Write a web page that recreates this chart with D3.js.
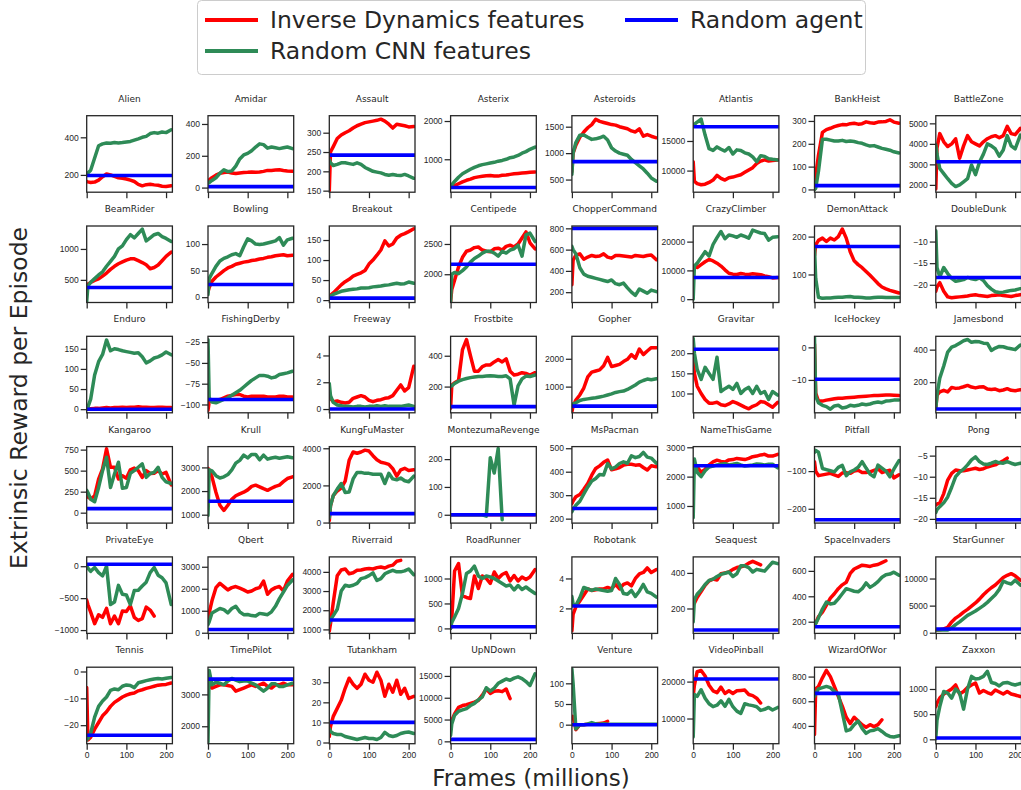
<!DOCTYPE html>
<html>
<head>
<meta charset="utf-8">
<script src="https://cdn.jsdelivr.net/npm/d3@7"></script>
<style>
  body { margin: 0; background: #fff; }
  svg { font-family: "DejaVu Sans", sans-serif; }
  .tick text { fill: #262626; font-size: 8.5px; }
  .tick line { stroke: #262626; stroke-width: 1.25; }
  .domain { display: none; }
  .frame { fill: none; stroke: #262626; stroke-width: 1.3; }
  .title { fill: #262626; font-size: 9px; text-anchor: middle; }
  .series { fill: none; stroke-linejoin: round; stroke-linecap: round; }
</style>
</head>
<body>
<svg width="1021" height="790"></svg>
<script>
const frames = [0, 3, 10, 20, 30, 40, 50, 60, 70, 80, 90, 100, 110, 120, 130, 140, 150, 160, 170, 180, 190, 200, 213];

const games = [
  "Alien", "Amidar", "Assault", "Asterix", "Asteroids", "Atlantis", "BankHeist", "BattleZone",
  "BeamRider", "Bowling", "Breakout", "Centipede", "ChopperCommand", "CrazyClimber", "DemonAttack", "DoubleDunk",
  "Enduro", "FishingDerby", "Freeway", "Frostbite", "Gopher", "Gravitar", "IceHockey", "Jamesbond",
  "Kangaroo", "Krull", "KungFuMaster", "MontezumaRevenge", "MsPacman", "NameThisGame", "Pitfall", "Pong",
  "PrivateEye", "Qbert", "Riverraid", "RoadRunner", "Robotank", "Seaquest", "SpaceInvaders", "StarGunner",
  "Tennis", "TimePilot", "Tutankham", "UpNDown", "Venture", "VideoPinball", "WizardOfWor", "Zaxxon"
];

const inverseDynamics = [
  [165, 163, 160, 162, 172, 190, 205, 200, 192, 185, 182, 178, 172, 165, 150, 142, 148, 150, 147, 145, 140, 138, 142],
  [38, 48, 62, 78, 90, 95, 98, 92, 88, 92, 95, 96, 98, 96, 98, 102, 108, 108, 110, 112, 108, 105, 102],
  [150, 250, 264, 285, 294, 300, 305, 312, 318, 322, 326, 328, 330, 332, 335, 330, 322, 312, 322, 320, 318, 315, 316],
  [280, 290, 310, 360, 410, 450, 480, 520, 540, 555, 570, 575, 560, 560, 580, 590, 605, 620, 630, 640, 650, 660, 670],
  [650, 1000, 1150, 1300, 1400, 1480, 1540, 1640, 1600, 1580, 1560, 1540, 1530, 1500, 1480, 1460, 1420, 1400, 1460, 1320, 1350, 1320, 1290],
  [11500, 8200, 7800, 7600, 7700, 8000, 8400, 9200, 8700, 8400, 8800, 8900, 9100, 9300, 9700, 10100, 10500, 11200, 11600, 11800, 11600, 11700, 11800],
  [0, 60, 150, 250, 262, 268, 275, 280, 284, 283, 288, 290, 286, 288, 296, 292, 290, 295, 296, 298, 305, 295, 290],
  [1800, 3800, 4500, 4100, 3870, 4000, 4250, 3300, 3900, 4400, 4100, 4000, 3900, 4100, 4250, 4350, 4400, 4300, 4400, 4850, 4500, 4450, 4750],
  [420, 430, 460, 490, 515, 560, 610, 670, 720, 760, 790, 820, 840, 840, 810, 780, 745, 680, 700, 740, 810, 880, 950],
  [10, 18, 30, 38, 44, 50, 55, 58, 62, 64, 66, 67, 69, 70, 72, 73, 75, 76, 78, 79, 80, 78, 79],
  [8, 12, 18, 28, 38, 46, 52, 60, 64, 68, 74, 90, 100, 112, 125, 148, 135, 140, 155, 162, 166, 171, 178],
  [1550, 1750, 1900, 2120, 2280, 2380, 2400, 2440, 2450, 2400, 2380, 2370, 2420, 2430, 2400, 2460, 2480, 2450, 2500, 2600, 2700, 2520, 2420],
  [270, 500, 550, 560, 510, 530, 545, 535, 540, 560, 530, 520, 545, 545, 540, 535, 530, 545, 540, 535, 545, 550, 505],
  [11000, 11500, 11000, 12000, 13000, 13800, 13300, 12500, 11500, 10200, 9000, 8700, 8600, 8900, 8700, 8600, 8800, 8700, 8500, 8100, 7800, 7400, 7500],
  [150, 178, 190, 196, 187, 196, 191, 200, 220, 196, 160, 136, 126, 118, 108, 98, 87, 76, 67, 62, 58, 55, 51],
  [-21.5, -20.5, -19.5, -21.5, -22.8, -23, -22.9, -22.8, -22.7, -22.6, -22.4, -22.3, -22.5, -22.6, -22.7, -22.5, -22.4, -22.3, -22.5, -22.6, -22.7, -22.5, -22.3],
  [0, 1, 1, 2, 2, 3, 4, 3, 4, 4, 5, 4, 5, 5, 6, 5, 5, 4, 4, 5, 5, 4, 4],
  [-107, -97, -95, -95, -94, -92, -90, -89, -88, -88, -90, -91, -90, -90, -90, -90, -91, -91, -91, -90, -90, -91, -91],
  [1.0, 0.8, 0.55, 0.6, 0.5, 0.45, 0.5, 0.8, 0.9, 1.0, 0.9, 0.65, 0.55, 0.65, 0.7, 0.8, 0.85, 1.0, 1.4, 1.8, 1.35, 1.6, 3.2],
  [60, 210, 225, 240, 440, 505, 400, 300, 300, 330, 340, 340, 360, 375, 360, 380, 300, 275, 280, 290, 285, 275, 290],
  [100, 300, 520, 700, 950, 1350, 1520, 1560, 1600, 1750, 2050, 1720, 1760, 1800, 1900, 1980, 2150, 2020, 2350, 2150, 2280, 2400, 2400],
  [187, 150, 118, 100, 85, 76, 76, 78, 72, 70, 74, 80, 76, 71, 66, 62, 68, 72, 80, 78, 72, 66, 78],
  [1, -14, -16.5, -16.5, -16.2, -16, -15.8, -15.6, -15.6, -15.5, -15.4, -15.3, -15.2, -15.1, -15, -14.9, -14.8, -14.8, -14.7, -14.6, -14.6, -14.7, -14.8],
  [40, 120, 140, 150, 140, 168, 162, 165, 172, 180, 170, 165, 170, 172, 158, 155, 158, 148, 152, 160, 150, 148, 153],
  [190, 185, 165, 200, 400, 520, 760, 540, 540, 400, 440, 410, 510, 530, 500, 420, 500, 466, 470, 500, 460, 480, 330],
  [2960, 2900, 2600, 1950, 1400, 1180, 1400, 1650, 1800, 1880, 1950, 2050, 2200, 2250, 2180, 2100, 2030, 2120, 2200, 2250, 2400, 2530, 2600],
  [100, 900, 1450, 1700, 1850, 2230, 3350, 3800, 3730, 3800, 3900, 3850, 3600, 3380, 3250, 3200, 3130, 2900, 2500, 2840, 2920, 2800, 2840],
  [0, 0, 0, 0, 0, 0, 0, 0, 0, 0, 0, 0, 0, 0, 0, 0, 0, 0, 0, 0, 0, 0, 0],
  [264, 275, 293, 303, 325, 350, 385, 414, 425, 440, 450, 408, 412, 418, 428, 432, 432, 428, 430, 418, 407, 425, 421],
  [2510, 2450, 2340, 2150, 2250, 2400, 2500, 2560, 2520, 2500, 2570, 2580, 2620, 2600, 2580, 2620, 2680, 2700, 2740, 2760, 2700, 2700, 2760],
  [-75, -100, -112, -110, -108, -106, -110, -114, -105, -104, -106, -100, -98, -104, -104, -102, -98, -94, -104, -100, -98, -118, -110],
  [-16.7, -16.5, -16.2, -14, -10.8, -9.2, -8.4, -8.6, -8.6, -8.4, -8.2, -8, -8.3, -8.1, -7.7, -7.4, -7.2, -6.7, -6.2, -5.6],
  [-531, -600, -720, -900, -760, -800, -661, -900, -780, -900, -700, -710, -620, -800, -850, -820, -640, -687, -780],
  [650, 900, 1450, 2050, 2250, 2100, 1950, 2050, 2100, 2030, 1950, 1850, 1900, 2000, 2050, 2350, 1750, 1950, 2050, 2100, 1900, 2350, 2650],
  [900, 1300, 2400, 3800, 4100, 4150, 3900, 3950, 4080, 4100, 4150, 4180, 4150, 4220, 4250, 4200, 4300, 4350, 4550, 4600],
  [0, 200, 1150, 1300, 650, 620, 600, 1050, 800, 1050, 1000, 900, 1130, 1000, 1080, 1120, 950, 1060, 950, 1030, 980, 1030, 1180],
  [0.5, 1.6, 2.1, 2.5, 2.9, 3.3, 3.2, 3.25, 3.3, 3.3, 3.4, 3.3, 3.6, 3.3, 3.6, 3.7, 3.5, 4.0, 4.3, 4.4, 4.7, 4.4, 4.6],
  [225, 230, 262, 295, 330, 355, 365, 360, 395, 400, 405, 420, 430, 435, 440, 455, 465, 455, 445],
  [170, 190, 240, 275, 330, 385, 420, 460, 490, 510, 580, 615, 630, 645, 640, 635, 645, 650, 665, 680],
  [500, 500, 550, 700, 1000, 2000, 2700, 3200, 3800, 4300, 4900, 5500, 6200, 7000, 7700, 8300, 8800, 9500, 10200, 10600, 10900, 10500, 9700],
  [-6, -25.5, -24.5, -21.5, -19, -16.5, -15, -13, -11.5, -10.5, -9.5, -8.8, -8.3, -8, -7.2, -6.8, -6.3, -5.9, -5.5, -5.1, -4.9, -4.8, -4.3],
  [3350, 3300, 3200, 3250, 3300, 3300, 3280, 3250, 3100, 3150, 3200, 3250, 3300, 3250, 3300, 3350, 3250, 3200, 3300, 3300, 3350, 3300, 3300],
  [3, 8, 13, 17, 21, 27, 32, 29, 27, 29, 34, 31, 30, 35, 31, 23, 29, 25, 31, 24, 27, 22, 23],
  [3700, 4800, 6300, 7800, 8200, 8400, 8700, 9000, 9400, 10600, 12000, 11000, 11500, 11600, 11400, 12000, 9800],
  [15, 20, -12, 0, 0, 1, 1, 2, 3, 4, 8],
  [16000, 19000, 22700, 23000, 21500, 19000, 17500, 17000, 18500, 16800, 17500, 16800, 17500, 17600, 17700, 16500, 16200, 15500, 14200],
  [330, 700, 720, 790, 850, 800, 720, 640, 560, 470, 420, 470, 440, 410, 390, 410, 395, 410, 450],
  [650, 720, 820, 900, 950, 1000, 1080, 900, 950, 1030, 1080, 1120, 920, 970, 930, 900, 980, 940, 900, 950, 900, 880, 850]
];

const randomCNN = [
  [205, 210, 225, 290, 355, 365, 370, 368, 372, 370, 372, 375, 378, 385, 392, 400, 405, 420, 425, 422, 428, 425, 440],
  [27, 32, 45, 62, 90, 112, 100, 105, 135, 180, 205, 215, 232, 255, 275, 270, 248, 255, 250, 245, 250, 255, 245],
  [230, 222, 215, 218, 222, 222, 220, 218, 222, 218, 210, 205, 200, 198, 196, 192, 190, 192, 190, 189, 192, 188, 182],
  [280, 330, 420, 530, 620, 680, 740, 790, 830, 860, 880, 900, 920, 950, 970, 1000, 1040, 1060, 1100, 1160, 1200, 1260, 1320],
  [600, 1000, 1200, 1340, 1345, 1300, 1260, 1270, 1290, 1320, 1250, 1100, 1040, 1000, 980, 960, 880, 820, 760, 700, 620, 530, 470],
  [17500, 17800, 18200, 18700, 16000, 13700, 13400, 14000, 13600, 13300, 13900, 12800, 13500, 13400, 13000, 12800, 12300, 11500, 12500, 12400, 12000, 11900, 11800],
  [0, 5, 80, 220, 220, 216, 212, 212, 215, 210, 212, 210, 205, 202, 195, 190, 192, 186, 180, 176, 172, 165, 160],
  [3950, 3500, 2800, 2550, 2300, 2070, 1920, 2000, 2150, 2300, 2970, 2500, 3100, 3500, 4000, 3900, 3750, 3400, 3700, 4400, 3900, 3750, 4430],
  [150, 400, 460, 520, 580, 630, 720, 800, 880, 1000, 1050, 1150, 1230, 1180, 1250, 1320, 1130, 1180, 1230, 1250, 1200, 1170, 1120],
  [5, 35, 45, 58, 68, 73, 76, 80, 82, 78, 95, 110, 106, 100, 99, 100, 102, 104, 106, 112, 98, 108, 111],
  [8, 10, 14, 18, 22, 24, 26, 27, 28, 30, 30, 31, 33, 34, 35, 37, 38, 40, 42, 40, 41, 45, 42],
  [1550, 2000, 2030, 2010, 2060, 2120, 2200, 2260, 2300, 2350, 2380, 2380, 2350, 2300, 2380, 2350, 2400, 2420, 2480, 2300, 2650, 2680, 2540],
  [630, 600, 560, 430, 370, 350, 340, 330, 320, 310, 300, 315, 280, 270, 285, 240, 200, 170, 230, 210, 190, 220, 205],
  [0, 11500, 12500, 14450, 16500, 15000, 19000, 21400, 23500, 21000, 22300, 22000, 21500, 22300, 21800, 21200, 24000, 23500, 23000, 22800, 20500, 21500, 21700],
  [170, 90, 40, 37, 38, 38, 39, 40, 40, 41, 42, 40, 40, 39, 38, 38, 39, 40, 40, 39, 39, 39, 39],
  [-7.5, -16, -18.2, -16, -17.4, -18.5, -19.2, -19, -18.8, -18.3, -18.6, -18.8, -18.4, -19, -20.2, -21, -21.6, -21.8, -21.7, -21.5, -21.3, -21.2, -20.9],
  [0, 5, 25, 85, 118, 136, 172, 145, 150, 148, 145, 143, 141, 139, 140, 130, 115, 120, 127, 130, 135, 142, 135],
  [-22, -92, -97, -98, -96, -94, -92, -89, -86, -83, -79, -75, -71, -68, -65, -65, -66, -68, -67, -64, -63, -62, -60],
  [1.9, 1.0, 0.5, 0.3, 0.25, 0.2, 0.2, 0.15, 0.2, 0.2, 0.15, 0.2, 0.2, 0.25, 0.2, 0.25, 0.2, 0.2, 0.2, 0.2, 0.25, 0.3, 0.2],
  [200, 205, 220, 235, 245, 252, 258, 262, 265, 266, 268, 270, 268, 266, 266, 270, 250, 80, 205, 250, 268, 265, 275],
  [330, 380, 420, 500, 540, 560, 580, 600, 630, 660, 700, 740, 790, 820, 840, 900, 980, 1060, 1160, 1220, 1270, 1250, 1280],
  [237, 200, 160, 135, 165, 150, 135, 190, 105, 112, 118, 110, 125, 100, 110, 115, 100, 118, 100, 105, 85, 105, 96],
  [3, -15, -17, -17.8, -18.2, -19, -18, -17.8, -18.6, -18.4, -17.8, -18, -17.8, -17.4, -17.6, -17.4, -17, -16.8, -17, -16.5, -16.4, -16.2, -16.2],
  [40, 120, 225, 300, 385, 415, 425, 440, 455, 462, 445, 450, 448, 440, 438, 395, 410, 420, 418, 410, 405, 400, 428],
  [267, 240, 160, 130, 300, 500, 660, 300, 460, 600, 290, 300, 470, 500, 540, 580, 420, 466, 480, 540, 420, 366, 347],
  [970, 2900, 2850, 2650, 2550, 2600, 2700, 2900, 3180, 3300, 3520, 3400, 3550, 3550, 3320, 3520, 3350, 3400, 3430, 3390, 3420, 3450, 3410],
  [270, 900, 1450, 1800, 2100, 1620, 1650, 2350, 2700, 2700, 2650, 2650, 2600, 2600, 2600, 2100, 2650, 2350, 2300, 2400, 2250, 2200, 2500],
  [0, 0, 0, 0, 0, 0, 0, 0, 0, 0, -5, 205, 150, 238, -18],
  [229, 240, 257, 274, 305, 335, 360, 371, 388, 386, 435, 412, 420, 435, 442, 436, 468, 460, 465, 482, 462, 458, 436],
  [600, 2600, 2150, 2000, 2200, 2330, 2360, 2400, 2420, 2440, 2400, 2420, 2450, 2400, 2360, 2380, 2400, 2430, 2420, 2400, 2420, 2420, 2300],
  [-50, -45, -50, -93, -96, -99, -102, -90, -85, -112, -102, -97, -90, -75, -92, -108, -115, -84, -92, -100, -115, -95, -72],
  [-18.5, -17.8, -17.1, -16.2, -14.8, -12.5, -10, -8.9, -8.2, -7.2, -6, -5.3, -6.4, -7, -7.1, -6.8, -6.4, -6.7, -6.8, -6.4, -6.8, -7.1, -6.8],
  [16, -30, -80, -20, -100, -150, 0, -600, -560, -300, -440, -450, -600, -380, -375, -310, -250, -100, -20, -140, -180, -260, -600],
  [370, 500, 900, 1000, 1100, 1050, 900, 1100, 1200, 950, 820, 830, 780, 760, 880, 850, 820, 950, 1200, 1550, 1850, 2150, 2400],
  [1320, 1500, 1720, 2050, 3000, 3300, 3250, 3300, 3400, 3650, 3700, 3800, 3950, 3550, 3650, 3900, 4000, 4080, 4000, 4000, 4050, 4150, 3850],
  [0, 120, 230, 400, 700, 1100, 1150, 1250, 1050, 1000, 1050, 1030, 1000, 950, 900, 850, 870, 770, 860, 780, 830, 770, 700],
  [2.8, 2.3, 2.2, 2.7, 3.4, 3.3, 3.2, 3.3, 3.25, 3.2, 3.15, 3.2, 4.0, 3.6, 3.0, 2.95, 3.2, 2.8, 3.15, 3.6, 3.1, 3.0, 2.75],
  [125, 250, 280, 305, 335, 358, 365, 380, 392, 398, 405, 380, 395, 440, 440, 430, 405, 420, 415, 410, 435, 460, 452],
  [170, 185, 230, 300, 355, 340, 345, 380, 420, 460, 450, 440, 435, 460, 505, 470, 490, 515, 550, 570, 575, 590, 565],
  [500, 500, 500, 500, 500, 900, 1500, 2000, 2600, 3200, 3600, 4000, 4500, 5000, 5600, 6300, 7000, 8000, 9500, 9200, 9000, 9700, 8800],
  [-25.5, -25, -23, -17, -13, -11, -9.5, -7, -6.5, -6.8, -5.5, -5, -5.2, -6, -4.2, -3.8, -3.4, -3.1, -2.8, -2.6, -2.8, -2.5, -2.2],
  [1500, 3750, 3300, 3380, 3350, 3300, 3420, 3500, 3450, 3400, 3420, 3420, 3350, 3300, 3200, 3100, 3200, 3330, 3330, 3250, 3250, 3300, 3350],
  [7, 5.5, 4.5, 4, 4, 3, 2.5, 2, 1.5, 2, 2.5, 2, 2, 1.5, 2.5, 5, 3.5, 3, 3.5, 4.5, 5, 5.2, 4.5],
  [1400, 4000, 6000, 6900, 7200, 7500, 8200, 8700, 9500, 10200, 12300, 11500, 12200, 13300, 13800, 14300, 14000, 14500, 14800, 14400, 13700, 12800, 15500],
  [135, 100, -10, 0, 0, 2, 5, 2, 1, 2, 1, 1, 1, 1, 1, 1, 1, 1, 1, 1, 1, 1, 1],
  [5000, 16500, 16000, 17800, 15500, 14000, 13200, 13600, 14800, 13300, 15200, 13200, 12000, 11400, 14000, 13700, 13500, 13200, 12200, 12500, 13000, 12300, 13000],
  [640, 660, 700, 710, 720, 710, 680, 660, 510, 360, 370, 410, 440, 380, 340, 360, 365, 378, 355, 330, 315, 310, 320],
  [13, 380, 650, 950, 920, 820, 1000, 920, 600, 1000, 1250, 1200, 1210, 1250, 1350, 1130, 1110, 1060, 1120, 1130, 1100, 1080, 1110]
];

const randomAgent = [
  197, 6, 242, 261, 840, 17400, 17, 3130,
  376, 24, 5, 2165, 800, 7510, 174, -18.3,
  0, -94, 0, 70, 300, 210, -9.8, 35,
  48, 1570, 480, 0, 243, 2370, -229, -20.2,
  30, 150, 1490, 33, 2.16, 79, 160, 680,
  -23.75, 3480, 10, 460, 0, 20700, 664, 27
];

const yRanges = [
  [108, 515], [-29, 452], [146, 344], [139, 2139], [261, 1708], [6350, 19270], [-12, 323], [1643, 5373],
  [134, 1371], [-10, 134], [-6, 185], [1533, 2797], [103, 822], [-1156, 25430], [26, 228], [-24.1, -6.4],
  [-9, 181], [-110, -18], [-0.28, 5.43], [30, 526], [60, 2807], [52, 242], [-20.1, 3.4], [12, 482],
  [-124, 786], [645, 3880], [-30, 4090], [-30, 245], [181, 507], [417, 3023], [-238, -35], [-21, -2.86],
  [-1052, 146], [-30, 3448], [792, 4780], [-100, 1433], [0.33, 5.44], [60, 490], [108, 710], [-123, 13990],
  [-26.9, 1.6], [1453, 3853], [-0.6, 37.5], [-540, 17000], [-46, 139], [3180, 23900], [256, 876], [-87, 1433]
];

const yTicks = [
  [200, 400], [0, 200, 400], [150, 200, 250, 300], [1000, 2000], [500, 1000, 1500], [10000, 15000], [0, 100, 200, 300], [2000, 3000, 4000, 5000],
  [500, 1000], [0, 50, 100], [0, 50, 100, 150], [2000, 2500], [200, 400, 600, 800], [0, 10000, 20000], [100, 200], [-20, -15, -10],
  [0, 50, 100, 150], [-100, -75, -50, -25], [0, 2, 4], [200, 400], [1000, 2000], [100, 150, 200], [-10, 0], [200, 400],
  [0, 250, 500, 750], [1000, 2000, 3000], [0, 2000, 4000], [0, 100, 200], [200, 300, 400, 500], [1000, 2000, 3000], [-200, -100], [-20, -15, -10, -5],
  [-1000, -500, 0], [0, 1000, 2000, 3000], [1000, 2000, 3000, 4000], [0, 500, 1000], [2, 4], [200, 400], [200, 400, 600], [0, 5000, 10000],
  [-20, -10, 0], [2000, 3000], [0, 10, 20, 30], [0, 5000, 10000, 15000], [0, 50, 100], [10000, 20000], [400, 600, 800], [0, 500, 1000]
];

const xTicks = [0, 100, 200];
const legendLabels = ["Inverse Dynamics features", "Random CNN features", "Random agent"];
const seriesColors = ["#ff0000", "#2e8b57", "#0000ff"];

const svg = d3.select("svg");
const panelW = 85.7, panelH = 76.5;
const colStep = 121.3, rowStep = 110.3;
const left0 = 86.7, top0 = 115.7;

const x = d3.scaleLinear().domain([0, 216]).range([0, panelW]);

games.forEach(function (name, i) {
  const col = i % 8;
  const row = Math.floor(i / 8);
  const g = svg.append("g")
    .attr("transform", `translate(${left0 + col * colStep},${top0 + row * rowStep})`);

  const y = d3.scaleLinear().domain(yRanges[i]).range([panelH, 0]);

  g.append("clipPath")
    .attr("id", "clip" + i)
    .append("rect")
    .attr("width", panelW)
    .attr("height", panelH);

  const line = d3.line()
    .x(function (d, k) {
      return x(frames[k]);
    })
    .y(function (d) {
      return y(d);
    });

  const plot = g.append("g").attr("clip-path", `url(#clip${i})`);

  // Curves
  plot.selectAll("path.series")
    .data([inverseDynamics[i], randomCNN[i]])
    .join("path")
    .classed("series", true)
    .attr("stroke", function (d, k) {
      return seriesColors[k];
    })
    .attr("stroke-width", 3.5)
    .attr("d", line);

  // Random agent baseline
  plot.append("line")
    .attr("x1", x(0))
    .attr("x2", x(216))
    .attr("y1", y(randomAgent[i]))
    .attr("y2", y(randomAgent[i]))
    .attr("stroke", seriesColors[2])
    .attr("stroke-width", 3.6);

  // Axes
  g.append("g")
    .attr("transform", `translate(0,${panelH})`)
    .call(d3.axisBottom(x)
      .tickValues(xTicks)
      .tickSize(6)
      .tickPadding(2.5)
      .tickFormat(row === 5 ? d3.format("d") : ""));

  g.append("g")
    .call(d3.axisLeft(y)
      .tickValues(yTicks[i])
      .tickSize(6)
      .tickPadding(2)
      .tickFormat(d3.format("d")));

  g.append("rect")
    .classed("frame", true)
    .attr("width", panelW)
    .attr("height", panelH);

  g.append("text")
    .classed("title", true)
    .attr("x", panelW / 2)
    .attr("y", -14)
    .text(name);
});

// Axis labels
svg.append("text")
  .attr("x", 531)
  .attr("y", 786)
  .attr("text-anchor", "middle")
  .attr("fill", "#262626")
  .attr("font-size", 23)
  .text("Frames (millions)");

svg.append("text")
  .attr("transform", "translate(27,398) rotate(-90)")
  .attr("text-anchor", "middle")
  .attr("fill", "#262626")
  .attr("font-size", 23.5)
  .text("Extrinsic Reward per Episode");

// Legend
const legend = svg.append("g");
legend.append("rect")
  .attr("x", 197.5)
  .attr("y", 0.5)
  .attr("width", 668)
  .attr("height", 74)
  .attr("rx", 4)
  .attr("fill", "#fff")
  .attr("stroke", "#cccccc");

const entries = legend.selectAll("g.entry")
  .data(legendLabels)
  .join("g")
  .classed("entry", true)
  .attr("transform", function (d, k) {
    return k < 2 ? `translate(205,${20 + k * 31})` : "translate(625,20)";
  });

entries.append("line")
  .attr("x1", 0)
  .attr("x2", 53)
  .attr("stroke", function (d, k) {
    return seriesColors[k];
  })
  .attr("stroke-width", 4);

entries.append("text")
  .attr("x", 65)
  .attr("dy", "0.35em")
  .attr("fill", "#262626")
  .attr("font-size", 23.5)
  .text(function (d) {
    return d;
  });
</script>
</body>
</html>
